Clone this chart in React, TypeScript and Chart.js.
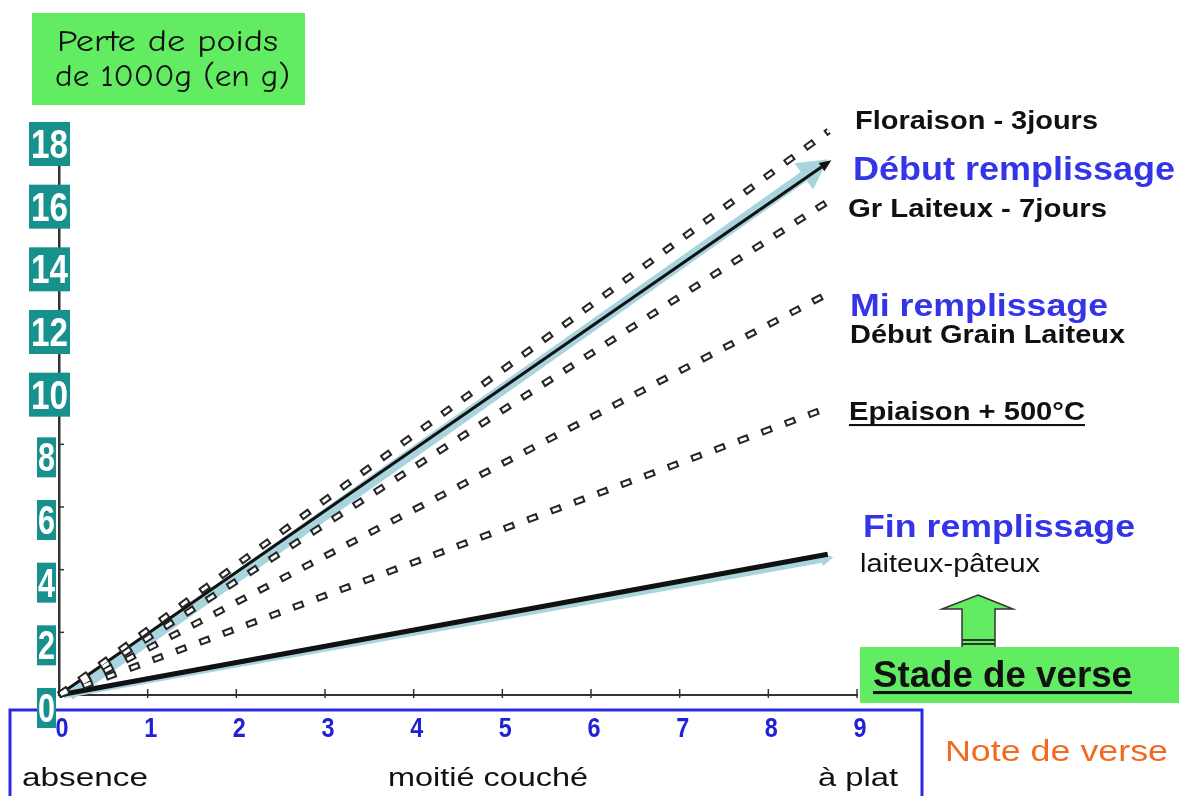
import React, { useEffect, useRef } from 'react';
import { Chart, registerables } from 'chart.js';

Chart.register(...registerables);

// ---------- data ----------
const xTicks = [0, 1, 2, 3, 4, 5, 6, 7, 8, 9];
const yTicks = [0, 2, 4, 6, 8, 10, 12, 14, 16, 18];
const xMin = 0;
const xMax = 9;
const yMin = 0;
const yMax = 18;

// dashed lines (stages)
const dashedNames = ['Floraison - 3jours', 'Gr Laiteux - 7jours', 'Début Grain Laiteux', 'Epiaison + 500°C'];
const dashedEndX = [8.68, 8.7, 8.7, 8.68];
const dashedEndY = [18.0, 15.8, 12.85, 9.18];

// light blue arrows
const arrowNames = ['Début remplissage', 'Fin remplissage'];
const arrowStartX = [0.12, 0.05];
const arrowEndX = [8.4, 8.6];
const arrowEndY = [16.55, 4.33];

// black lines
const blackEndX = [8.6, 8.67];
const blackEndY = [16.85, 4.49];

const bottomLabels = ['absence', 'moitié couché', 'à plat'];

// ---------- styles ----------
const FONT = '"Liberation Sans", Arial, Helvetica, sans-serif';
const HAND = '"Comic Sans MS", "Comic Neue", Lato, "DejaVu Sans", sans-serif';
const TEAL = '#17918d';
const GREEN = '#62ec62';
const BLUE_TXT = '#3535e8';
const BLUE_TICK = '#2020d4';
const LIGHT = '#a8d4dd';
const DARK = '#333333';

function drawText(
  ctx: CanvasRenderingContext2D,
  s: string,
  x: number,
  y: number,
  size: number,
  weight: string,
  color: string,
  width: number,
  align: 'left' | 'center' | 'right' = 'left',
  family: string = FONT,
  underline = 0
) {
  ctx.save();
  ctx.font = `${weight} ${size}px ${family}`;
  const m = ctx.measureText(s).width;
  const sx = width ? width / m : 1;
  const w = m * sx;
  const left = align === 'left' ? x : align === 'center' ? x - w / 2 : x - w;
  ctx.translate(left, y);
  ctx.scale(sx, 1);
  ctx.fillStyle = color;
  ctx.textBaseline = 'alphabetic';
  ctx.textAlign = 'left';
  ctx.fillText(s, 0, 0);
  ctx.restore();
  if (underline) {
    ctx.save();
    ctx.fillStyle = color;
    ctx.fillRect(left, y + underline, w, Math.max(2, size / 12));
    ctx.restore();
  }
}

const decorPlugin = {
  id: 'decor',
  beforeDatasetsDraw(chart: any) {
    const ctx: CanvasRenderingContext2D = chart.ctx;
    const xs = chart.scales.x;
    const ys = chart.scales.y;
    const axisY = ys.getPixelForValue(0);
    const axisX = xs.getPixelForValue(0);

    // blue frame around x labels
    ctx.save();
    ctx.strokeStyle = '#2a2ae0';
    ctx.lineWidth = 3;
    ctx.strokeRect(10, 710, 912, 95);
    ctx.restore();

    // tick marks
    ctx.save();
    ctx.strokeStyle = DARK;
    ctx.lineWidth = 1.5;
    xTicks.forEach((v) => {
      if (v === 0) return;
      const px = xs.getPixelForValue(v);
      ctx.beginPath();
      ctx.moveTo(px, axisY - 6);
      ctx.lineTo(px, axisY + 3);
      ctx.stroke();
    });
    yTicks.forEach((v) => {
      if (v === 0) return;
      const py = ys.getPixelForValue(v);
      ctx.beginPath();
      ctx.moveTo(axisX, py);
      ctx.lineTo(axisX + 5, py);
      ctx.stroke();
    });
    ctx.restore();

    // teal y labels
    yTicks.forEach((v) => {
      const py = ys.getPixelForValue(v) + 13;
      const two = v >= 10;
      const bx = two ? 29 : 37;
      const bw = two ? 41 : 19;
      const bh = two ? 44 : 40;
      ctx.fillStyle = TEAL;
      ctx.fillRect(bx, py - bh / 2, bw, bh);
      drawText(ctx, String(v), bx + bw / 2, py + 14, 40, 'bold', '#ffffff', two ? 37 : 17, 'center');
    });

    // x labels
    xTicks.forEach((v) => {
      const px = xs.getPixelForValue(v) + 3;
      drawText(ctx, String(v), px, 737, 28, 'bold', BLUE_TICK, 13, 'center');
    });
  },
  afterDatasetDraw(chart: any, args: any) {
    const ds = chart.data.datasets[args.index];
    const arrow = ds.arrow;
    if (!arrow) return;
    const pts = args.meta.data;
    const p0 = pts[0];
    const p1 = pts[pts.length - 1];
    const dx = p1.x - p0.x;
    const dy = p1.y - p0.y;
    const len = Math.hypot(dx, dy) || 1;
    const ux = dx / len;
    const uy = dy / len;
    const tipX = p1.x + ux * arrow.len;
    const tipY = p1.y + uy * arrow.len;
    const ctx: CanvasRenderingContext2D = chart.ctx;
    ctx.save();
    ctx.fillStyle = arrow.color;
    ctx.beginPath();
    ctx.moveTo(tipX, tipY);
    ctx.lineTo(p1.x - uy * arrow.hw, p1.y + ux * arrow.hw);
    ctx.lineTo(p1.x + uy * arrow.hw, p1.y - ux * arrow.hw);
    ctx.closePath();
    ctx.fill();
    ctx.restore();
  },
  afterDraw(chart: any) {
    const ctx: CanvasRenderingContext2D = chart.ctx;

    // top-left label box
    ctx.fillStyle = GREEN;
    ctx.fillRect(32, 13, 273, 92);
    drawText(ctx, 'Perte de poids', 57, 51, 31, 'normal', '#111', 221, 'left', HAND);
    drawText(ctx, 'de 1000g (en g)', 55, 86, 31, 'normal', '#111', 235, 'left', HAND);

    // right labels
    drawText(ctx, dashedNames[0], 855, 129, 25, 'bold', '#111', 243);
    drawText(ctx, arrowNames[0], 853, 180, 33, 'bold', BLUE_TXT, 322);
    drawText(ctx, dashedNames[1], 848, 217, 25, 'bold', '#111', 259);
    drawText(ctx, 'Mi remplissage', 850, 316, 31, 'bold', BLUE_TXT, 258);
    drawText(ctx, dashedNames[2], 850, 343, 25, 'bold', '#111', 275);
    drawText(ctx, dashedNames[3], 849, 420, 25, 'bold', '#111', 236, 'left', FONT, 4);
    drawText(ctx, arrowNames[1], 863, 537, 31, 'bold', BLUE_TXT, 272);
    drawText(ctx, 'laiteux-pâteux', 860, 572, 25, 'normal', '#111', 180);

    // green up arrow
    ctx.save();
    ctx.fillStyle = GREEN;
    ctx.strokeStyle = DARK;
    ctx.lineWidth = 1.5;
    ctx.beginPath();
    ctx.moveTo(978, 595);
    ctx.lineTo(1013, 609);
    ctx.lineTo(995, 609);
    ctx.lineTo(995, 648);
    ctx.lineTo(962, 648);
    ctx.lineTo(962, 609);
    ctx.lineTo(942, 609);
    ctx.closePath();
    ctx.fill();
    ctx.stroke();
    ctx.lineWidth = 2;
    ctx.beginPath();
    ctx.moveTo(962, 640);
    ctx.lineTo(995, 640);
    ctx.moveTo(962, 644);
    ctx.lineTo(995, 644);
    ctx.stroke();
    ctx.restore();

    // Stade de verse box
    ctx.fillStyle = GREEN;
    ctx.fillRect(860, 647, 319, 56);
    drawText(ctx, 'Stade de verse', 873, 687, 37, 'bold', '#111', 259, 'left', FONT, 4);

    // Note de verse
    drawText(ctx, 'Note de verse', 945, 761, 30, 'normal', '#f26a21', 223);

    // bottom labels
    drawText(ctx, bottomLabels[0], 22, 786, 25, 'normal', '#111', 126);
    drawText(ctx, bottomLabels[1], 388, 786, 25, 'normal', '#111', 200);
    drawText(ctx, bottomLabels[2], 898, 786, 25, 'normal', '#111', 80, 'right');
  },
};

export default function App() {
  const ref = useRef<HTMLCanvasElement | null>(null);

  useEffect(() => {
    document.body.style.margin = '0';
    document.body.style.background = '#ffffff';
    const canvas = ref.current;
    if (!canvas) return;

    const datasets: any[] = [];

    arrowNames.forEach((n, i) => {
      datasets.push({
        label: n,
        data: [
          { x: arrowStartX[i], y: 0 },
          { x: arrowEndX[i], y: arrowEndY[i] },
        ],
        borderColor: LIGHT,
        borderWidth: i === 0 ? 11 : 7,
        pointRadius: 0,
        order: 10,
        clip: false,
        arrow: i === 0 ? { len: 30, hw: 16, color: LIGHT } : { len: 12, hw: 7, color: LIGHT },
      });
    });

    arrowNames.forEach((n, i) => {
      datasets.push({
        label: n + ' (ligne)',
        data: [
          { x: 0, y: 0 },
          { x: blackEndX[i], y: blackEndY[i] },
        ],
        borderColor: '#111111',
        borderWidth: i === 0 ? 3 : 5,
        pointRadius: 0,
        order: 8,
        clip: false,
        arrow: i === 0 ? { len: 12, hw: 5, color: '#111111' } : undefined,
      });
    });

    dashedNames.forEach((n, i) => {
      const data = [
        { x: 0, y: 0 },
        { x: dashedEndX[i], y: dashedEndY[i] },
      ];
      datasets.push({
        label: n,
        data,
        borderColor: '#262626',
        borderWidth: 7,
        borderDash: [11, 14],
        pointRadius: 0,
        order: 4,
        clip: false,
      });
      datasets.push({
        label: n + ' (int)',
        data,
        borderColor: '#ffffff',
        borderWidth: 3,
        borderDash: [7, 18],
        borderDashOffset: -2,
        pointRadius: 0,
        order: 3,
        clip: false,
      });
    });

    const chart = new Chart(canvas, {
      type: 'line',
      data: { datasets },
      options: {
        animation: false,
        responsive: false,
        devicePixelRatio: 1,
        layout: { padding: { left: 59, right: 322, top: 131, bottom: 101 } },
        plugins: { legend: { display: false }, tooltip: { enabled: false } },
        elements: { line: { tension: 0, fill: false, borderCapStyle: 'butt' } },
        scales: {
          x: {
            type: 'linear',
            min: xMin,
            max: xMax,
            ticks: { display: false, stepSize: 1 },
            grid: { display: false, drawTicks: false, tickLength: 0 },
            border: { display: true, color: DARK, width: 2 },
          },
          y: {
            type: 'linear',
            min: yMin,
            max: yMax,
            ticks: { display: false, stepSize: 2 },
            grid: { display: false, drawTicks: false, tickLength: 0 },
            border: { display: true, color: DARK, width: 2.5 },
          },
        },
      } as any,
      plugins: [decorPlugin as any],
    });

    return () => chart.destroy();
  }, []);

  return (
    <div style={{ width: 1179, height: 796, background: '#fff', position: 'relative' }}>
      <canvas ref={ref} width={1179} height={796} style={{ display: 'block' }} />
    </div>
  );
}
